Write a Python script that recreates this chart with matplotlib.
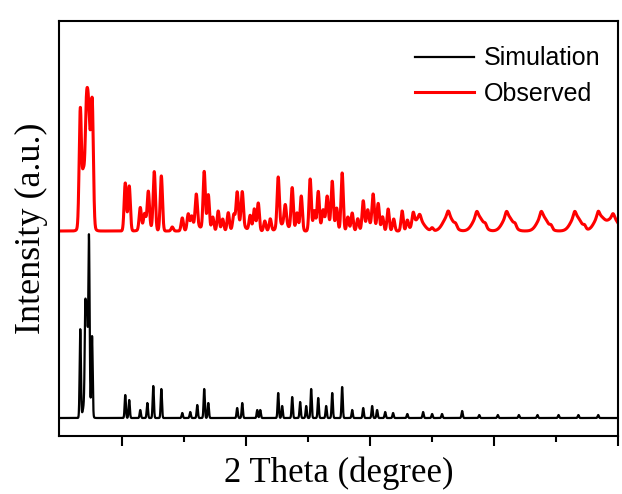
import matplotlib
matplotlib.use("Agg")
import matplotlib.pyplot as plt
import numpy as np

# peak list: 2 theta (deg) and height (a.u.)
sim_pos = [6.61, 7.02, 7.15, 7.31, 7.56,
           10.24, 10.56, 11.45, 12.02, 12.50, 13.15, 14.84, 15.48, 16.05, 16.61, 16.94,
           19.27, 19.68, 20.89, 21.13, 22.58, 22.90, 23.71, 24.35, 24.84, 25.24, 25.81,
           26.45, 26.94, 27.74, 28.55, 29.44, 30.16, 30.56, 31.21, 31.85, 33.0, 34.27,
           35.0, 35.8, 37.42, 38.8, 40.3, 42.0, 43.5, 45.2, 46.8, 48.4]
sim_h = [88, 90, 80, 160, 78,
         23, 18, 8, 15, 32, 29, 5, 6, 13, 29, 15,
         10, 15, 8, 8, 25, 12, 21, 16, 12, 29, 20,
         12, 25, 31, 8, 10, 12, 8, 6, 5, 4, 6,
         4, 4, 7, 3, 3, 3, 3, 3, 3, 3]
# broad base under the strongest simulated reflections
sim_base_pos = [7.15]
sim_base_h = [32]

obs_pos = [6.61, 6.85, 7.10, 7.26, 7.42, 7.58,
           10.24, 10.56, 11.45, 11.8, 12.10, 12.58, 13.15, 14.03, 14.84, 15.32, 15.6, 15.97,
           16.61, 16.94, 17.3, 17.74, 18.1, 18.55, 19.0, 19.27, 19.68, 20.32, 20.65, 20.97,
           21.5, 21.94, 22.58, 23.15, 23.71, 24.1, 24.44, 25.16, 25.5, 25.81, 26.2, 26.53,
           26.94, 27.3, 27.74, 28.2, 28.55, 29.0, 29.44, 29.8, 30.24, 30.65, 31.0, 31.45,
           31.9, 32.58, 33.0, 33.47]
obs_h = [112, 30, 78, 76, 40, 112,
         48, 45, 22, 14, 36, 58, 55, 4, 13, 16, 12, 32,
         58, 36, 14, 20, 12, 18, 14, 34, 34, 15, 22, 28,
         10, 12, 50, 20, 42, 18, 35, 52, 20, 38, 16, 28,
         46, 22, 58, 14, 18, 12, 28, 16, 32, 26, 14, 22,
         12, 20, 10, 12]
# broad components of the observed pattern
hump_pos = [7.1, 12.0, 16.0, 19.5, 23.0, 26.5, 30.0, 33.9, 36.3, 38.7, 41.1, 43.9, 46.6,
            48.5, 49.6]
hump_h = [40, 4, 5, 6, 7, 7, 6, 12, 15, 15, 15, 15, 15, 15, 13]
# small sharp features sitting on the high angle humps
obs_small_pos = [34.0, 35.0, 36.3, 36.9, 38.6, 39.3, 41.0, 41.7, 43.8, 44.6, 46.5, 47.3,
                 48.4, 49.6]
obs_small_h = [5, 3, 5, 3, 5, 3, 5, 3, 5, 3, 5, 3, 5, 4]

offset = 185


def pattern(x, pos, h, w):
    y = np.zeros_like(x)
    for p, a in zip(pos, h):
        y += a * np.exp(-0.5 * ((x - p) / w) ** 2)
    return y


tt = np.linspace(5, 50, 8000)
sim = pattern(tt, sim_pos, sim_h, 0.05) + pattern(tt, sim_base_pos, sim_base_h, 0.2)
obs = (pattern(tt, obs_pos, obs_h, 0.09) + pattern(tt, hump_pos[:1], hump_h[:1], 0.3)
       + pattern(tt, hump_pos[1:], hump_h[1:], 0.4)
       + pattern(tt, obs_small_pos, obs_small_h, 0.1) + 2)

fig = plt.figure(figsize=(6.22, 4.94), dpi=100)
ax = fig.add_axes([0.095, 0.1174, 0.8986, 0.8401])
ax.plot(tt, sim, color="black", lw=1.6, label="Simulation")
ax.plot(tt, obs + offset, color="red", lw=2.2, label="Observed")

ax.set_xlim(4.9, 50)
ax.set_ylim(-18, 397)
ax.set_xticks([10, 20, 30, 40, 50])
ax.set_xticks([15, 25, 35, 45], minor=True)
ax.set_xticklabels([])
ax.set_yticks([])
ax.tick_params(axis="x", which="major", direction="out", length=7, width=1.5)
ax.tick_params(axis="x", which="minor", direction="out", length=4, width=1.5)
for s in ax.spines.values():
    s.set_linewidth(1.5)

ax.set_xlabel("2 Theta (degree)", family="Liberation Serif", fontsize=25, labelpad=4)
ax.set_ylabel("Intensity (a.u.)", family="Liberation Serif", fontsize=26, labelpad=8)

ax.legend(loc="upper left", bbox_to_anchor=(0.667, 0.906), bbox_transform=fig.transFigure,
          frameon=False, borderpad=0, borderaxespad=0,
          prop={"family": "Liberation Sans", "size": 18},
          handlelength=2.35, handletextpad=0.4, labelspacing=0.46)

fig.savefig("out.png", dpi=100)
